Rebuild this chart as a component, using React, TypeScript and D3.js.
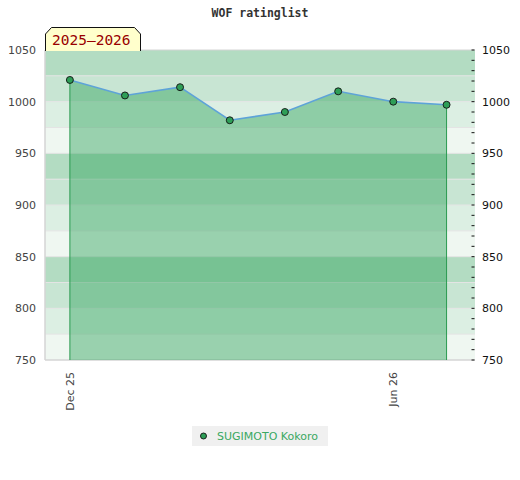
import * as d3 from "d3";

// rating history, first of each month
const months = [
  "2025-12-01",
  "2026-01-01",
  "2026-02-01",
  "2026-03-01",
  "2026-04-01",
  "2026-05-01",
  "2026-06-01",
  "2026-07-01",
];
const ratings = [1021, 1006, 1014, 982, 990, 1010, 1000, 997];

const yTicks = [750, 800, 850, 900, 950, 1000, 1050];
const xTickDates = ["2025-12-01", "2026-06-01"];
const xTickLabels = ["Dec 25", "Jun 26"];
const bandColors = ["#b3dcc2", "#c8e5d3", "#dcefe3", "#eff7f1"];

const playerName = "SUGIMOTO Kokoro";
const seasonLabel = "2025\u20132026";
const title = "WOF ratinglist";

const width = 520;
const height = 480;
const margin = { top: 50, right: 45, bottom: 120, left: 45 };

export default function App() {
  const parse = d3.utcParse("%Y-%m-%d");
  const data = months.map((m, i) => ({ date: parse(m) as Date, value: ratings[i] }));

  const x = d3
    .scaleUtc()
    .domain([parse("2025-11-17") as Date, parse("2026-07-17") as Date])
    .range([margin.left, width - margin.right]);

  const y = d3
    .scaleLinear()
    .domain([750, 1050])
    .range([height - margin.bottom, margin.top]);

  const x0 = margin.left;
  const x1 = width - margin.right;
  const yBottom = height - margin.bottom;

  // bands every 25 points, 4-color cycle from the top
  const bandEdges = d3.range(1050, 750, -25);

  const area = d3
    .area<{ date: Date; value: number }>()
    .x((d) => x(d.date))
    .y0(yBottom)
    .y1((d) => y(d.value));

  const line = d3
    .line<{ date: Date; value: number }>()
    .x((d) => x(d.date))
    .y((d) => y(d.value));

  const minorTicks = d3.range(750, 1051, 10);

  const first = data[0];
  const last = data[data.length - 1];

  return (
    <svg
      width={width}
      height={height}
      style={{ position: "absolute", left: 0, top: 0, background: "#fff" }}
      fontFamily="DejaVu Sans, sans-serif"
    >
      <text
        x={width / 2}
        y={17}
        textAnchor="middle"
        fontFamily="DejaVu Sans Mono, monospace"
        fontWeight="bold"
        fontSize="11.5px"
        fill="#333"
      >
        {title}
      </text>

      {/* background bands */}
      {bandEdges.map((top, i) => (
        <rect
          key={top}
          x={x0}
          y={y(top)}
          width={x1 - x0}
          height={y(top - 25) - y(top)}
          fill={bandColors[i % 4]}
        />
      ))}
      {bandEdges.slice(1).map((v) => (
        <line key={v} x1={x0} x2={x1} y1={y(v)} y2={y(v)} stroke="#e4e4e4" strokeWidth={1} />
      ))}

      {/* plot border */}
      <line x1={x0} x2={x1} y1={margin.top} y2={margin.top} stroke="#d4d4d4" />
      <line x1={x0} x2={x1} y1={yBottom} y2={yBottom} stroke="#d4d4d4" strokeWidth={1.5} />
      <line x1={x0} x2={x0} y1={margin.top} y2={yBottom} stroke="#d4d4d4" strokeWidth={1.5} />

      {/* rating area */}
      <path d={area(data) || ""} fill="rgb(40,160,85)" fillOpacity={0.43} />
      <line x1={x(first.date)} x2={x(first.date)} y1={y(first.value)} y2={yBottom} stroke="#2a9a50" />
      <line x1={x(last.date)} x2={x(last.date)} y1={y(last.value)} y2={yBottom} stroke="#2a9a50" />
      <path d={line(data) || ""} fill="none" stroke="#5ea3d8" strokeWidth={1.6} />
      {data.map((d, i) => (
        <circle key={i} cx={x(d.date)} cy={y(d.value)} r={3.5} fill="#2e9e57" stroke="#111" strokeWidth={0.9} />
      ))}

      {/* left axis */}
      {yTicks.map((t) => (
        <text key={t} x={36} y={y(t) + 4} textAnchor="end" fontSize="11px" fill="#444">
          {t}
        </text>
      ))}

      {/* right axis */}
      {minorTicks.map((t) => (
        <line key={t} x1={x1 - 3.5} x2={x1 - 0.5} y1={y(t)} y2={y(t)} stroke="#111" />
      ))}
      {yTicks.map((t) => (
        <text key={t} x={482} y={y(t) + 4} fontSize="11px" fill="#111">
          {t}
        </text>
      ))}

      {/* x axis labels */}
      {xTickDates.map((d, i) => {
        const px = x(parse(d) as Date);
        return (
          <text
            key={d}
            transform={`translate(${px + 4},${yBottom + 12}) rotate(-90)`}
            textAnchor="end"
            fontSize="11px"
            fill="#444"
          >
            {xTickLabels[i]}
          </text>
        );
      })}

      {/* season tag */}
      <path
        d="M45.5,51 L45.5,34 L51.5,27.5 L134.5,27.5 L140.5,34 L140.5,51"
        fill="#ffffcc"
        stroke="#111"
        strokeWidth={1}
      />
      <text
        x={52}
        y={45}
        fontFamily="DejaVu Sans Mono, monospace"
        fontSize="14.5px"
        fill="#990000"
      >
        {seasonLabel}
      </text>

      {/* legend */}
      <rect x={192} y={426} width={136} height={20} fill="#f0f0f0" />
      <circle cx={203.5} cy={436} r={3} fill="#2e9e57" stroke="#111" strokeWidth={0.9} />
      <text x={217} y={440} fontSize="11px" fill="#3aa862">
        {playerName}
      </text>
    </svg>
  );
}
